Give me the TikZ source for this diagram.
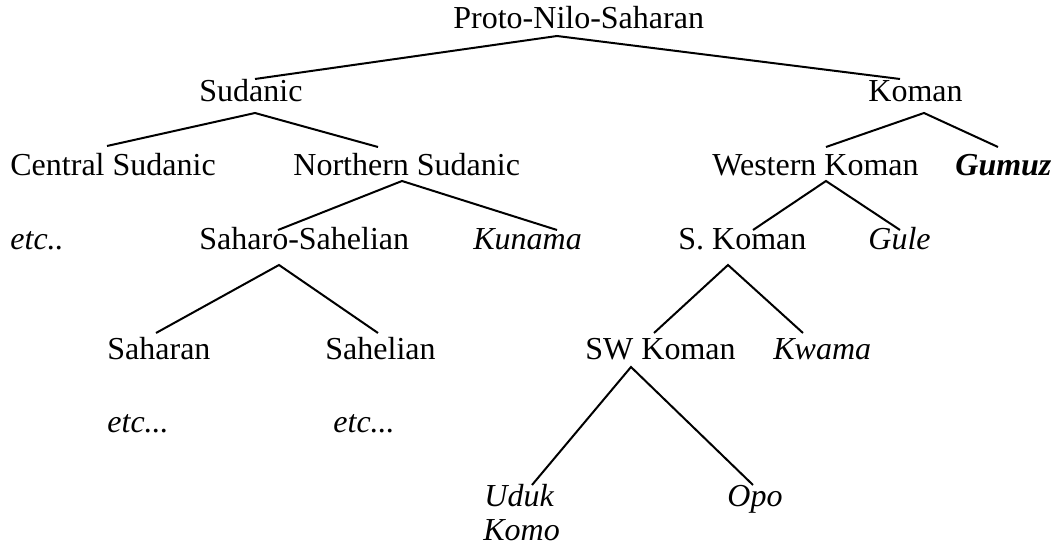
\documentclass[tikz,border=0pt]{standalone}
\usepackage{fontspec}
\setmainfont{Liberation Serif}
\begin{document}
\begin{tikzpicture}[x=0.5pt,y=-0.5pt,
  lbl/.style={anchor=base west,inner sep=0pt,font=\fontsize{16}{19}\selectfont},
  lang/.style={lbl,font=\fontsize{16}{19}\selectfont\itshape},
  branch/.style={line width=1pt,line cap=butt}]
\useasboundingbox (0,0) rectangle (1062,550);
% nodes
\node[lbl] (proto) at (453,29) {Proto-Nilo-Saharan};
\node[lbl] (sud) at (199,102) {Sudanic};
\node[lbl] (kom) at (868,102) {Koman};
\node[lbl] (cen) at (10,176) {Central Sudanic};
\node[lbl] (nor) at (293,176) {Northern Sudanic};
\node[lbl] (wes) at (712,176) {Western Koman};
\node[lang,font=\fontsize{16}{19}\selectfont\bfseries\itshape] (gum) at (955,176) {Gumuz};
\node[lang] (etc1) at (10,250) {etc..};
\node[lbl] (ss) at (199,250) {Saharo-Sahelian};
\node[lang] (kun) at (473,250) {Kunama};
\node[lbl] (sk) at (678,250) {S. Koman};
\node[lang] (gul) at (868,250) {Gule};
\node[lbl] (sah) at (107,360) {Saharan};
\node[lbl] (sahel) at (325,360) {Sahelian};
\node[lbl] (sw) at (585,360) {SW Koman};
\node[lang] (kwa) at (773,360) {Kwama};
\node[lang] (etc2) at (107,433) {etc...};
\node[lang] (etc3) at (333,433) {etc...};
\node[lang] (udu) at (484,507) {Uduk};
\node[lang] (kmo) at (483,541) {Komo};
\node[lang] (opo) at (727,507) {Opo};
% connector end points
\coordinate (proto-b) at (557,36);
\coordinate (sud-t) at (255,79);   \coordinate (kom-t) at (900,79);
\coordinate (sud-b) at (255,113);
\coordinate (cen-t) at (107,146);  \coordinate (nor-t) at (378,147);
\coordinate (kom-b) at (924,113);
\coordinate (wes-t) at (826,147);  \coordinate (gum-t) at (998,147);
\coordinate (nor-b) at (402,181);
\coordinate (ss-t) at (278,230);   \coordinate (kun-t) at (557,230);
\coordinate (wes-b) at (826,181);
\coordinate (sk-t) at (753,230);   \coordinate (gul-t) at (900,230);
\coordinate (ss-b) at (279,265);
\coordinate (sah-t) at (156,333);  \coordinate (sahel-t) at (378,333);
\coordinate (sk-b) at (728,265);
\coordinate (sw-t) at (654,333);   \coordinate (kwa-t) at (803,333);
\coordinate (sw-b) at (631,367);
\coordinate (udu-t) at (532,485);  \coordinate (opo-t) at (753,485);
% connectors
\draw[branch] (sud-t) -- (proto-b) -- (kom-t);
\draw[branch] (cen-t) -- (sud-b) -- (nor-t);
\draw[branch] (wes-t) -- (kom-b) -- (gum-t);
\draw[branch] (ss-t) -- (nor-b) -- (kun-t);
\draw[branch] (sk-t) -- (wes-b) -- (gul-t);
\draw[branch] (sah-t) -- (ss-b) -- (sahel-t);
\draw[branch] (sw-t) -- (sk-b) -- (kwa-t);
\draw[branch] (udu-t) -- (sw-b) -- (opo-t);
\end{tikzpicture}
\end{document}
